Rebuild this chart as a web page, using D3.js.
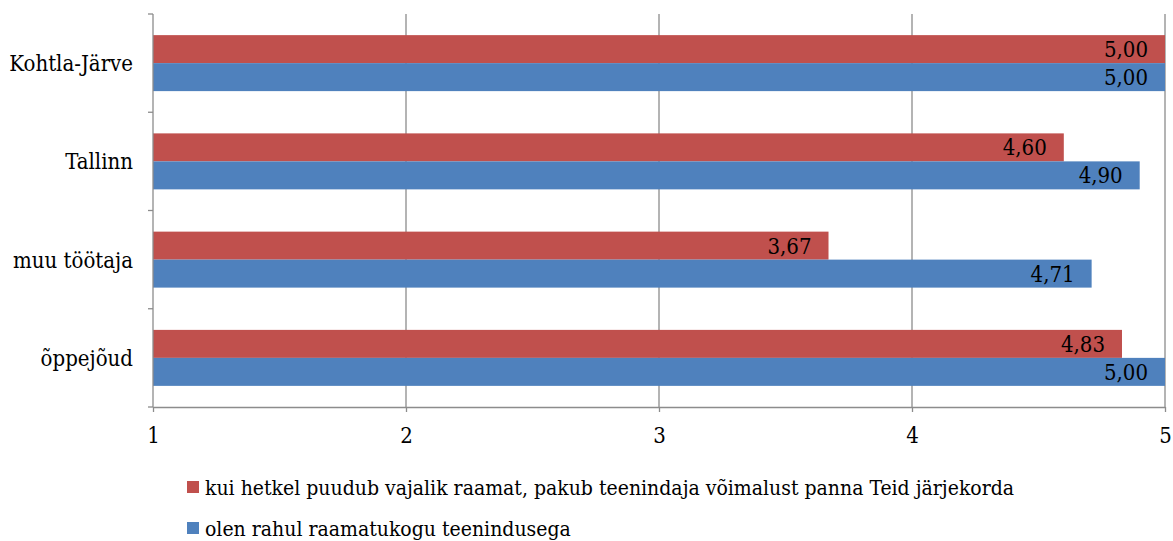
<!DOCTYPE html>
<html>
<head>
<meta charset="utf-8">
<script src="https://cdn.jsdelivr.net/npm/d3@7"></script>
<style>
  html, body { margin: 0; padding: 0; background: #ffffff; }
  svg text { font-family: "DejaVu Serif Condensed", "DejaVu Serif", serif; font-stretch: condensed; fill: #000; }
</style>
</head>
<body>
<svg id="chart" width="1173" height="541"></svg>
<script>
// Categories, top to bottom
const categories = ["Kohtla-Järve", "Tallinn", "muu töötaja", "õppejõud"];
// Series values (same order as categories)
const seriesNames = [
  "kui hetkel puudub vajalik raamat, pakub teenindaja võimalust panna Teid järjekorda",
  "olen rahul raamatukogu teenindusega"
];
const redValues  = [5.00, 4.60, 3.67, 4.83];
const blueValues = [5.00, 4.90, 4.71, 5.00];
const seriesColors = ["#C0504D", "#4F81BD"];
const xTicks = [1, 2, 3, 4, 5];

const svg = d3.select("#chart");
const plot = { left: 153, right: 1165, top: 14, bottom: 407 };

const x = d3.scaleLinear().domain([1, 5]).range([plot.left, plot.right]);
const yBand = d3.scaleBand().domain(categories).range([plot.top, plot.bottom]).padding(0);
const ySeries = d3.scaleBand().domain([0, 1])
  .range([0, yBand.bandwidth()]).paddingOuter(0.755).paddingInner(0);

const fmt = v => d3.format(".2f")(v).replace(".", ",");
const fontSize = 22;
const legendFontSize = 21;

// vertical gridlines
svg.append("g")
  .selectAll("line")
  .data(xTicks.slice(1))
  .join("line")
  .attr("x1", d => x(d)).attr("x2", d => x(d))
  .attr("y1", plot.top).attr("y2", plot.bottom)
  .attr("stroke", "#8c8c8c").attr("stroke-width", 1.3);

// bars and their value labels
const series = [redValues, blueValues];
series.forEach((vals, si) => {
  const g = svg.append("g");
  g.selectAll("rect")
    .data(categories)
    .join("rect")
    .attr("x", x(1))
    .attr("y", (c) => yBand(c) + ySeries(si))
    .attr("width", (c, i) => x(vals[i]) - x(1))
    .attr("height", ySeries.bandwidth())
    .attr("fill", seriesColors[si]);
  g.selectAll("text")
    .data(categories)
    .join("text")
    .attr("x", (c, i) => x(vals[i]) - 17)
    .attr("y", (c) => yBand(c) + ySeries(si) + ySeries.bandwidth() / 2)
    .attr("dy", "0.36em")
    .attr("text-anchor", "end")
    .attr("font-size", fontSize)
    .text((c, i) => fmt(vals[i]));
});

// x axis
const xAxis = svg.append("g")
  .attr("transform", `translate(0,${plot.bottom})`)
  .call(d3.axisBottom(x).tickValues(xTicks).tickFormat(d3.format("d")).tickSize(5).tickSizeOuter(0))
  .attr("font-family", null);
xAxis.select(".domain").attr("stroke", "#8c8c8c").attr("stroke-width", 1.3);
xAxis.selectAll(".tick line").attr("stroke", "#8c8c8c").attr("stroke-width", 1.3);
xAxis.selectAll(".tick text")
  .attr("font-size", fontSize)
  .attr("fill", "#000")
  .attr("y", 20);

// y axis with ticks at category boundaries
const yAxisG = svg.append("g");
yAxisG.append("line")
  .attr("x1", plot.left).attr("x2", plot.left)
  .attr("y1", plot.top).attr("y2", plot.bottom)
  .attr("stroke", "#8c8c8c").attr("stroke-width", 1.3);
const boundaries = categories.map(c => yBand(c)).concat([plot.bottom]);
yAxisG.selectAll("line.tk")
  .data(boundaries)
  .join("line")
  .attr("class", "tk")
  .attr("x1", plot.left - 5).attr("x2", plot.left)
  .attr("y1", d => d).attr("y2", d => d)
  .attr("stroke", "#8c8c8c").attr("stroke-width", 1.3);
yAxisG.selectAll("text")
  .data(categories)
  .join("text")
  .attr("x", 133)
  .attr("y", c => yBand(c) + yBand.bandwidth() / 2)
  .attr("dy", "0.36em")
  .attr("text-anchor", "end")
  .attr("font-size", fontSize)
  .text(c => c);

// legend
const legendRows = [487, 528];
const legend = svg.append("g");
seriesNames.forEach((name, i) => {
  legend.append("rect")
    .attr("x", 187).attr("y", legendRows[i] - 6)
    .attr("width", 12).attr("height", 12)
    .attr("fill", seriesColors[i]);
  legend.append("text")
    .attr("x", 205).attr("y", legendRows[i])
    .attr("dy", "0.36em")
    .attr("font-size", legendFontSize)
    .text(name);
});
</script>
</body>
</html>
